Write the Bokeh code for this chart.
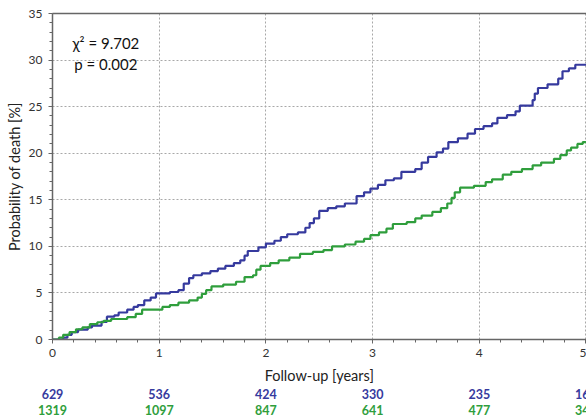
from bokeh.plotting import figure
from bokeh.models import Label, LinearAxis, FixedTicker, Range1d
from bokeh.core.properties import value
from bokeh.embed import file_html
from bokeh.resources import INLINE

# ---- data ----
blue_t = [0, 0.10, 0.14, 0.18, 0.24, 0.33, 0.37, 0.46, 0.51, 0.58, 0.62, 0.70, 0.76, 0.80, 0.86, 0.92,
          0.97, 1.10, 1.18, 1.23, 1.28, 1.32, 1.40, 1.48, 1.55, 1.62, 1.70, 1.76, 1.80, 1.83, 1.93,
          2.00, 2.08, 2.14, 2.20, 2.30, 2.37, 2.41, 2.45, 2.50, 2.58, 2.66, 2.74, 2.85, 2.92, 2.98,
          3.05, 3.12, 3.20, 3.27, 3.40, 3.46, 3.52, 3.60, 3.66, 3.71, 3.80, 3.89, 3.96, 4.04, 4.12,
          4.17, 4.26, 4.34, 4.38, 4.50, 4.52, 4.55, 4.64, 4.74, 4.78, 4.84, 4.90, 5.00]
blue_p = [0, 0.2, 0.5, 0.8, 1.05, 1.3, 1.5, 1.9, 2.45, 2.6, 2.9, 3.2, 3.5, 3.7, 4.2, 4.5,
          4.95, 5.1, 5.3, 6.0, 6.6, 6.9, 7.1, 7.35, 7.6, 7.9, 8.2, 8.5, 9.0, 9.5, 9.9,
          10.3, 10.6, 11.0, 11.3, 11.5, 12.0, 12.5, 13.0, 13.8, 14.1, 14.3, 14.6, 15.4, 15.8, 16.2,
          16.6, 17.1, 17.3, 18.0, 18.3, 19.0, 19.6, 20.1, 20.5, 21.2, 21.6, 22.1, 22.6, 22.9, 23.2,
          23.8, 24.1, 24.5, 25.1, 25.7, 26.4, 27.0, 27.4, 28.0, 28.8, 29.1, 29.5, 29.5]

green_t = [0, 0.06, 0.10, 0.16, 0.22, 0.28, 0.35, 0.42, 0.48, 0.55, 0.70, 0.78, 0.84, 1.03, 1.10,
           1.18, 1.28, 1.36, 1.40, 1.44, 1.49, 1.60, 1.72, 1.80, 1.88, 1.91, 1.95, 2.04, 2.12, 2.22,
           2.32, 2.44, 2.54, 2.62, 2.74, 2.84, 2.92, 2.98, 3.06, 3.13, 3.19, 3.32, 3.40, 3.46, 3.56,
           3.64, 3.70, 3.74, 3.77, 3.82, 3.95, 4.06, 4.12, 4.22, 4.30, 4.40, 4.50, 4.58, 4.70, 4.76,
           4.82, 4.86, 4.92, 4.97, 5.00]
green_p = [0, 0.2, 0.5, 0.8, 1.1, 1.3, 1.65, 1.85, 2.0, 2.2, 2.4, 2.75, 3.2, 3.5, 3.7,
           3.95, 4.2, 4.5, 4.9, 5.3, 5.7, 5.9, 6.2, 6.7, 6.9, 7.5, 7.9, 8.2, 8.5, 8.8,
           9.2, 9.4, 9.6, 10.0, 10.2, 10.5, 10.8, 11.2, 11.5, 11.9, 12.4, 12.6, 13.0, 13.3, 13.7,
           14.1, 14.6, 15.2, 15.8, 16.3, 16.5, 16.9, 17.2, 17.7, 18.0, 18.3, 18.7, 19.0, 19.4, 19.8,
           20.3, 20.6, 21.0, 21.2, 21.2]

risk_years = [0, 1, 2, 3, 4, 5]
risk_blue = ["629", "536", "424", "330", "235", "163"]
risk_green = ["1319", "1097", "847", "641", "477", "342"]

x_ticks = [0, 1, 2, 3, 4, 5]
y_ticks = [0, 5, 10, 15, 20, 25, 30, 35]

stat_lines = ["\u03c7\u00b2 = 9.702", "p = 0.002"]
x_title = "Follow-up [years]"
y_title = "Probability of death [%]"

BLUE = "#363a9e"
GREEN = "#2f9e3c"
FONT = "Lato"
AX = "#666666"

W, LEFT = 586, 52
X_END = 5.005

p = figure(width=W, height=363, x_range=Range1d(0, X_END), y_range=Range1d(0, 35),
           output_backend="svg", toolbar_location=None,
           min_border_left=LEFT, min_border_right=0, min_border_top=13, min_border_bottom=24)
p.outline_line_color = None

for ax in (p.xaxis[0], p.yaxis[0]):
    ax.major_label_text_font = FONT
    ax.major_label_text_font_size = "12px"
    ax.major_label_text_color = "#333333"
    ax.axis_line_color = AX
    ax.axis_line_width = 1.5
    ax.major_tick_line_color = AX
    ax.minor_tick_line_color = AX
    ax.major_tick_in = 0
    ax.minor_tick_in = 0
    ax.major_tick_out = 4
    ax.minor_tick_out = 3

p.yaxis.axis_label = y_title
p.yaxis.axis_label_text_font = FONT
p.yaxis.axis_label_text_font_size = "14.5px"
p.yaxis.axis_label_text_font_style = "normal"
p.yaxis.axis_label_text_color = "#222222"
p.yaxis.axis_label_standoff = 3
p.yaxis.major_label_standoff = 6

p.xaxis.major_label_standoff = 5
p.xaxis.ticker = FixedTicker(ticks=x_ticks, minor_ticks=[i * 0.2 for i in range(26)])
p.yaxis.ticker = FixedTicker(ticks=y_ticks, minor_ticks=list(range(36)))

top = LinearAxis(ticker=FixedTicker(ticks=[]), major_label_text_font_size="0px",
                 major_tick_line_color=None, minor_tick_line_color=None,
                 axis_line_color=AX, axis_line_width=1.5, major_label_standoff=0)
p.add_layout(top, "above")

p.grid.grid_line_color = "#a8a8a8"
p.grid.grid_line_dash = "2 2"
p.grid.grid_line_width = 1

p.step(blue_t, blue_p, mode="after", line_color=BLUE, line_width=2.2)
p.step(green_t, green_p, mode="after", line_color=GREEN, line_width=2.2)

p.add_layout(Label(x=0.5, y=31.8, text=stat_lines[0], text_font=FONT, text_font_size="15px",
                   text_align="center", text_baseline="middle", text_color="#111111"))
p.add_layout(Label(x=0.5, y=29.6, text=stat_lines[1], text_font=FONT, text_font_size="15px",
                   text_align="center", text_baseline="middle", text_color="#111111"))

# ---- lower panel: axis title and numbers at risk (same x scale, frame spans full width) ----
x_start_q = -LEFT * X_END / (W - LEFT)
q = figure(width=W, height=56, x_range=Range1d(x_start_q, X_END), y_range=Range1d(56, 0),
           x_axis_type=None, y_axis_type=None,
           output_backend="svg", toolbar_location=None,
           min_border_left=0, min_border_right=0, min_border_top=0, min_border_bottom=0)
q.grid.visible = False
q.outline_line_color = None

ROW_TITLE, ROW_BLUE, ROW_GREEN = 12, 30, 46
q.text(x=[2.5], y=[ROW_TITLE], text=[x_title], text_font=value(FONT), text_font_size="14.5px",
       text_color="#222222", text_align="center", text_baseline="middle")
q.text(x=risk_years, y=[ROW_BLUE] * len(risk_years), text=risk_blue, text_font=value(FONT),
       text_font_size="12.5px", text_font_style="bold", text_color=BLUE,
       text_align="center", text_baseline="middle")
q.text(x=risk_years, y=[ROW_GREEN] * len(risk_years), text=risk_green, text_font=value(FONT),
       text_font_size="12.5px", text_font_style="bold", text_color=GREEN,
       text_align="center", text_baseline="middle")

open("out.html", "w").write(file_html([p, q], INLINE))
